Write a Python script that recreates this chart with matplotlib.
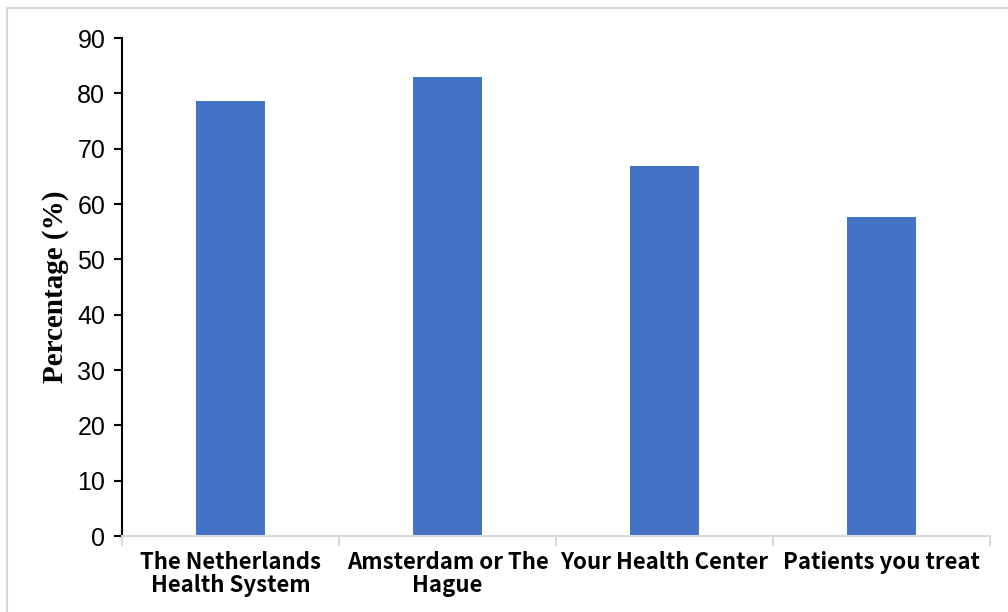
import numpy as np
import matplotlib.pyplot as plt
from matplotlib.patches import Rectangle

# survey results per level of the health system
categories = ["The Netherlands\nHealth System", "Amsterdam or The\nHague",
              "Your Health Center", "Patients you treat"]
percentages = [78.6, 82.9, 66.8, 57.7]
y_ticks = [0, 10, 20, 30, 40, 50, 60, 70, 80, 90]

bar_color = "#4472C4"
grid_grey = "#D9D9D9"

fig = plt.figure(figsize=(10.08, 6.12), dpi=100)
ax = fig.add_axes([122 / 1008, 1 - 536 / 612, 868 / 1008, 498 / 612])

x = np.arange(len(categories))
ax.bar(x, percentages, width=0.315, color=bar_color, zorder=2)

ax.set_xlim(-0.5, len(categories) - 0.5)
ax.set_ylim(0, 90)
ax.set_yticks(y_ticks)
ax.set_yticklabels([str(v) for v in y_ticks], family="Liberation Sans", fontsize=18)

# category labels centred under the bars, grey separators between categories
ax.set_xticks(x)
ax.set_xticklabels(categories, family=["Noto Sans CJK SC", "DejaVu Sans"],
                   fontsize=16, fontweight="semibold", linespacing=0.97)
ax.tick_params(axis="x", length=0, pad=11)
ax.set_xticks(np.arange(-0.5, len(categories)), minor=True)
ax.tick_params(axis="x", which="minor", length=7, width=1.5, color=grid_grey)
ax.tick_params(axis="y", length=6, width=1.5, color="black", pad=6)

for side in ("top", "right"):
    ax.spines[side].set_visible(False)
ax.spines["left"].set_linewidth(1.5)
ax.spines["left"].set_color("black")
ax.spines["bottom"].set_linewidth(1.5)
ax.spines["bottom"].set_color(grid_grey)

ax.set_ylabel("Percentage (%)", family="Liberation Serif", fontweight="bold",
              fontsize=21, labelpad=6)

# thin frame around the chart area
fig.patches.append(Rectangle((7 / 1008, -0.1), 1.2, 1 - 8 / 612 + 0.1,
                             transform=fig.transFigure, fill=False,
                             edgecolor=grid_grey, linewidth=1.5))

fig.savefig("out.png", dpi=100)
